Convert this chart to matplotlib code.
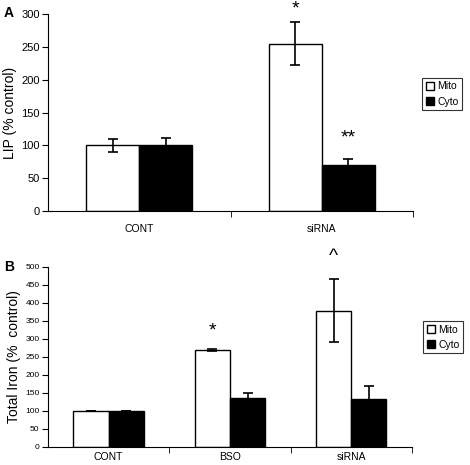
"""Two-panel bar chart: LIP and total iron, Mito vs Cyto."""

import matplotlib.pyplot as plt
import numpy as np
from matplotlib.patches import Patch

plt.rcParams["font.family"] = ["Liberation Sans", "DejaVu Sans"]

# panel A
cats_a = ["CONT", "siRNA"]
mito_a = [100, 255]
mito_a_err = [10, 33]
cyto_a = [100, 70]
cyto_a_err = [11, 10]

# panel B
cats_b = ["CONT", "BSO", "siRNA"]
mito_b = [100, 268, 378]
mito_b_err = [0, 3, 88]
cyto_b = [100, 136, 134]
cyto_b_err = [0, 14, 34]

W = 0.29


def draw_panel(ax, cats, mito, mito_err, cyto, cyto_err, ymax, ystep, fs, xpad):
    x = np.arange(len(cats))
    ax.bar(x - W / 2, mito, W, color="white", edgecolor="black", linewidth=1.0,
           yerr=mito_err, capsize=3.5, error_kw=dict(elinewidth=1.2, capthick=1.2), zorder=2)
    ax.bar(x + W / 2, cyto, W, color="black", edgecolor="black", linewidth=1.0,
           yerr=cyto_err, capsize=3.5, error_kw=dict(elinewidth=1.2, capthick=1.2), zorder=2)
    ax.set_xlim(-0.5, len(cats) - 0.5)
    ax.set_ylim(0, ymax)
    ax.set_yticks(np.arange(0, ymax + 1, ystep))
    ax.set_xticks(x)
    ax.set_xticklabels(cats, fontsize=7.5)
    ax.set_xticks(np.arange(len(cats)) + 0.5, minor=True)
    ax.tick_params(axis="x", which="major", length=0, pad=xpad)
    ax.tick_params(axis="x", which="minor", length=4, direction="out")
    ax.tick_params(axis="y", length=4, direction="out", labelsize=fs, pad=2)
    for s in ["top", "right"]:
        ax.spines[s].set_visible(False)
    return x


fig = plt.figure(figsize=(4.7, 4.65), dpi=100)

ax_a = fig.add_axes([0.102, 0.546, 0.777, 0.424])
x_a = draw_panel(ax_a, cats_a, mito_a, mito_a_err, cyto_a, cyto_a_err, 300, 50, 8, 9)
ax_a.set_ylabel("LIP (% control)", fontsize=10, labelpad=3)
ax_a.text(x_a[1] - W / 2, mito_a[1] + mito_a_err[1] + 6, "*", ha="center", va="bottom", fontsize=14)
ax_a.text(x_a[1] + W / 2, cyto_a[1] + cyto_a_err[1] + 18, "**", ha="center", va="bottom", fontsize=14)

ax_b = fig.add_axes([0.102, 0.039, 0.7745, 0.387])
x_b = draw_panel(ax_b, cats_b, mito_b, mito_b_err, cyto_b, cyto_b_err, 500, 50, 6, 4)
ax_b.set_ylabel("Total Iron (%  control)", fontsize=10, labelpad=3)
ax_b.text(x_b[1] - W / 2, mito_b[1] + 30, "*", ha="center", va="bottom", fontsize=14)
ax_b.text(x_b[2] - W / 2, mito_b[2] + mito_b_err[2] + 40, "^", ha="center", va="bottom", fontsize=14)

fig.text(0.008, 0.988, "A", fontsize=10, fontweight="bold", va="top")
fig.text(0.008, 0.44, "B", fontsize=10, fontweight="bold", va="top")

handles = [Patch(facecolor="white", edgecolor="black", label="Mito"),
           Patch(facecolor="black", edgecolor="black", label="Cyto")]
for ax, anchor in [(ax_a, (0.898, 0.798)), (ax_b, (0.9, 0.275))]:
    leg = fig.legend(handles=handles, loc="center left", bbox_to_anchor=anchor,
                     fontsize=7.5, frameon=True, fancybox=False, handlelength=0.8,
                     handleheight=0.8, handletextpad=0.3, borderpad=0.35,
                     labelspacing=0.5, borderaxespad=0)
    leg.get_frame().set_edgecolor("black")
    leg.get_frame().set_linewidth(0.8)

fig.savefig("out.png", dpi=100)
